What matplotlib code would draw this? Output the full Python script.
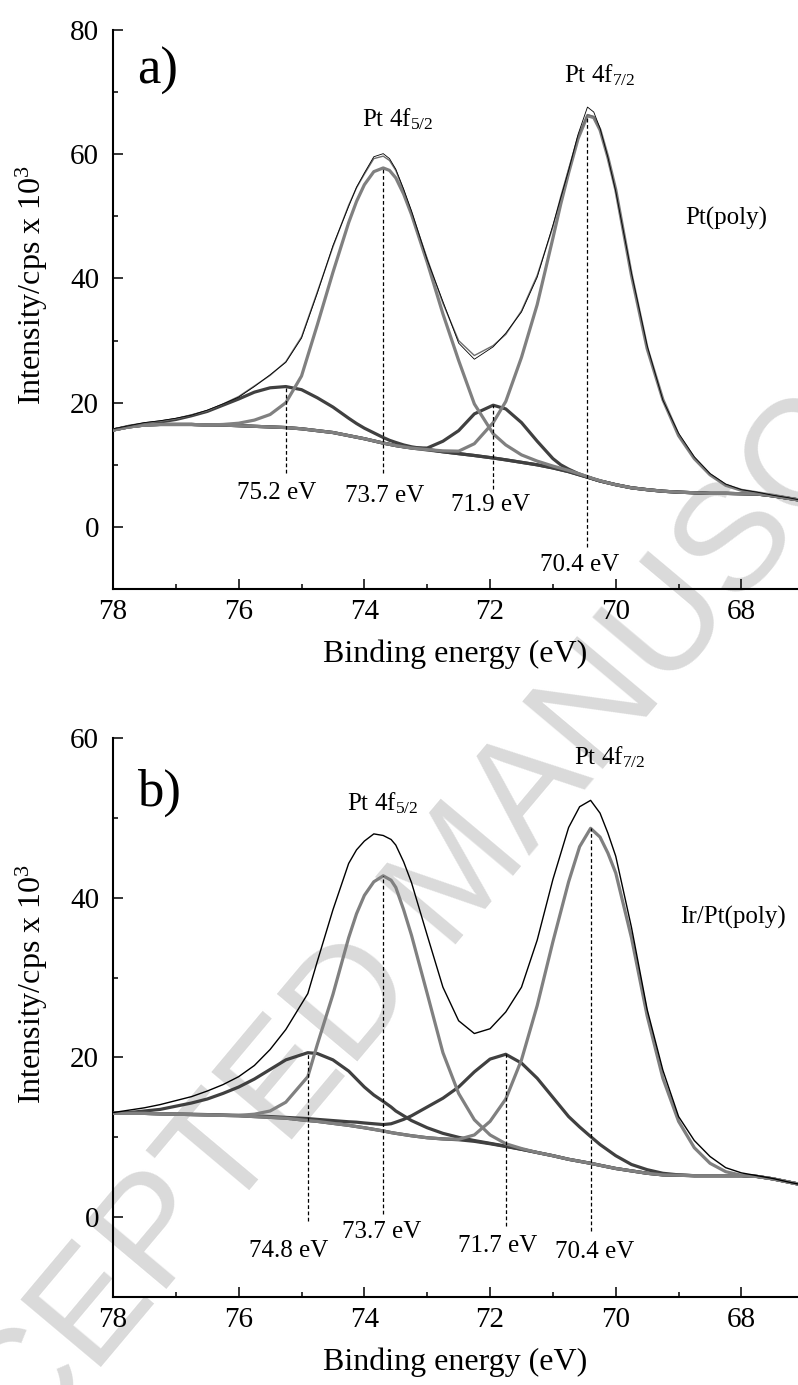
import numpy as np
import matplotlib
matplotlib.use('Agg')
import matplotlib.pyplot as plt
from matplotlib.ticker import MultipleLocator

plt.rcParams['font.family'] = 'Liberation Serif'
plt.rcParams['mathtext.fontset'] = 'custom'
plt.rcParams['mathtext.rm'] = 'Liberation Serif'

# ---- panel a) Pt(poly) ----
x_a = [78.0, 77.75, 77.5, 77.25, 77.0, 76.75, 76.5, 76.25, 76.0, 75.75, 75.5, 75.25,
       75.0, 74.75, 74.5, 74.25, 74.125, 74.0, 73.85, 73.7, 73.6, 73.5, 73.375, 73.25,
       73.0, 72.75, 72.5, 72.25, 71.95, 71.75, 71.5, 71.25, 71.0, 70.875, 70.75, 70.6,
       70.45, 70.35, 70.25, 70.125, 70.0, 69.75, 69.5, 69.25, 69.0, 68.75, 68.5, 68.25,
       68.0, 67.75, 67.5, 67.25, 67.0]
bg_a = [15.6, 16.1, 16.4, 16.5, 16.5, 16.5, 16.4, 16.4, 16.3, 16.2, 16.1, 16.0,
        15.8, 15.5, 15.2, 14.7, 14.45, 14.2, 13.85, 13.5, 13.3, 13.1, 12.9, 12.7,
        12.4, 12.1, 11.8, 11.5, 11.1, 10.8, 10.4, 10.0, 9.5, 9.2, 8.9, 8.45,
        8.0, 7.7, 7.4, 7.1, 6.8, 6.3, 6.0, 5.75, 5.6, 5.5, 5.4, 5.4,
        5.35, 5.3, 5.0, 4.6, 4.2]
p752_a = [15.6, 16.2, 16.6, 16.9, 17.3, 17.9, 18.6, 19.6, 20.6, 21.7, 22.4, 22.6,
          22.1, 20.8, 19.3, 17.5, 16.65, 15.9, 15.15, 14.4, 13.95, 13.6, 13.2, 12.9,
          12.5, 12.1, 11.8, 11.5, 11.1, 10.8, 10.4, 10.0, 9.5, 9.2, 8.9, 8.45,
          8.0, 7.7, 7.4, 7.1, 6.8, 6.3, 6.0, 5.75, 5.6, 5.5, 5.4, 5.4,
          5.35, 5.3, 5.0, 4.6, 4.2]
p737_a = [15.6, 16.1, 16.4, 16.5, 16.5, 16.5, 16.4, 16.5, 16.7, 17.2, 18.1, 20.0,
          24.3, 32.5, 41.0, 49.0, 52.4, 55.1, 57.2, 57.8, 57.4, 56.2, 53.6, 50.3,
          42.6, 34.3, 26.8, 19.8, 15.0, 13.2, 11.6, 10.6, 9.8, 9.45, 9.1, 8.6,
          8.1, 7.75, 7.45, 7.1, 6.8, 6.3, 6.0, 5.75, 5.6, 5.5, 5.4, 5.4,
          5.35, 5.3, 5.0, 4.6, 4.2]
p719_a = [15.6, 16.1, 16.4, 16.5, 16.5, 16.5, 16.4, 16.4, 16.3, 16.2, 16.1, 16.0,
          15.8, 15.5, 15.2, 14.7, 14.45, 14.2, 13.85, 13.5, 13.3, 13.1, 12.9, 12.75,
          12.7, 13.8, 15.5, 18.2, 19.6, 19.0, 16.8, 13.8, 11.0, 10.0, 9.3, 8.6,
          8.05, 7.7, 7.4, 7.1, 6.8, 6.3, 6.0, 5.75, 5.6, 5.5, 5.4, 5.4,
          5.35, 5.3, 5.0, 4.6, 4.2]
p704_a = [15.6, 16.1, 16.4, 16.5, 16.5, 16.5, 16.4, 16.4, 16.3, 16.2, 16.1, 16.0,
          15.8, 15.5, 15.2, 14.7, 14.45, 14.2, 13.85, 13.5, 13.3, 13.1, 12.9, 12.7,
          12.45, 12.25, 12.2, 13.4, 16.8, 20.2, 27.3, 35.8, 46.5, 52.0, 57.0, 62.5,
          66.2, 65.9, 63.9, 59.5, 54.3, 40.5, 28.7, 20.5, 14.7, 11.0, 8.4, 6.7,
          5.9, 5.5, 5.1, 4.65, 4.2]
env_a = [15.7, 16.2, 16.7, 17.0, 17.4, 18.0, 18.7, 19.8, 21.0, 22.7, 24.4, 26.6,
         30.6, 37.8, 45.1, 51.8, 54.6, 56.8, 59.3, 59.7, 59.0, 57.4, 54.2, 50.5,
         43.2, 36.0, 30.0, 27.6, 29.2, 31.0, 34.8, 40.5, 48.3, 53.2, 57.6, 62.8,
         66.4, 66.1, 64.0, 59.6, 54.4, 40.6, 28.8, 20.6, 14.8, 11.1, 8.5, 6.8,
         6.0, 5.5, 5.1, 4.65, 4.2]
raw_a = [15.8, 16.3, 16.8, 17.1, 17.5, 18.0, 18.8, 19.8, 20.9, 22.6, 24.5, 26.5,
         30.4, 37.6, 45.3, 51.6, 54.7, 57.0, 59.6, 60.1, 59.3, 57.6, 54.4, 50.9,
         43.0, 36.3, 29.6, 27.0, 29.0, 31.2, 34.6, 40.2, 48.6, 53.0, 57.4, 63.2,
         67.6, 66.8, 64.2, 59.5, 54.0, 40.9, 29.2, 20.4, 15.1, 11.3, 8.6, 6.9,
         6.0, 5.6, 5.1, 4.7, 4.2]
mark_x_a = [75.25, 73.7, 71.95, 70.45]
mark_low_a = [8.7, 8.7, 6.1, -3.2]
lab_a = ['75.2 eV', '73.7 eV', '71.9 eV', '70.4 eV']
lab_x_a = [75.4, 73.67, 71.99, 70.57]
lab_y_a = [5.5, 5.0, 3.5, -6.1]

# ---- panel b) Ir/Pt(poly) ----
x_b = [78.0, 77.75, 77.5, 77.25, 77.0, 76.75, 76.5, 76.25, 76.0, 75.75, 75.5, 75.25,
       74.9, 74.75, 74.5, 74.25, 74.125, 74.0, 73.85, 73.7, 73.575, 73.5, 73.375, 73.25,
       73.0, 72.75, 72.5, 72.25, 72.0, 71.75, 71.5, 71.25, 71.0, 70.75, 70.575, 70.4,
       70.25, 70.125, 70.0, 69.75, 69.5, 69.25, 69.0, 68.75, 68.5, 68.25, 68.0, 67.75,
       67.5, 67.25, 67.0]
bg_b = [13.0, 13.0, 13.0, 12.95, 12.9, 12.85, 12.8, 12.75, 12.7, 12.6, 12.5, 12.4,
        12.1, 12.0, 11.75, 11.5, 11.35, 11.2, 11.0, 10.8, 10.6, 10.5, 10.35, 10.2,
        9.95, 9.8, 9.7, 9.5, 9.2, 8.85, 8.5, 8.1, 7.7, 7.25, 7.0, 6.75,
        6.5, 6.3, 6.1, 5.8, 5.5, 5.3, 5.25, 5.2, 5.2, 5.2, 5.2, 5.1,
        4.8, 4.4, 4.0]
p748_b = [13.0, 13.1, 13.3, 13.5, 13.9, 14.3, 14.8, 15.5, 16.3, 17.3, 18.5, 19.7,
          20.6, 20.5, 19.7, 18.3, 17.3, 16.3, 15.3, 14.5, 13.8, 13.3, 12.7, 12.1,
          11.2, 10.5, 10.0, 9.6, 9.25, 8.9, 8.5, 8.1, 7.7, 7.25, 7.0, 6.75,
          6.5, 6.3, 6.1, 5.8, 5.5, 5.3, 5.25, 5.2, 5.2, 5.2, 5.2, 5.1,
          4.8, 4.4, 4.0]
p737_b = [13.0, 13.0, 13.0, 12.95, 12.9, 12.85, 12.8, 12.75, 12.75, 12.9, 13.3, 14.4,
          17.6, 21.6, 27.9, 35.0, 38.0, 40.3, 42.0, 42.75, 42.2, 41.3, 38.5, 35.3,
          28.0, 20.6, 15.5, 12.2, 10.3, 9.2, 8.6, 8.1, 7.7, 7.25, 7.0, 6.75,
          6.5, 6.3, 6.1, 5.8, 5.5, 5.3, 5.25, 5.2, 5.2, 5.2, 5.2, 5.1,
          4.8, 4.4, 4.0]
p717_b = [13.0, 13.0, 13.0, 12.95, 12.9, 12.9, 12.85, 12.8, 12.75, 12.7, 12.6, 12.5,
          12.35, 12.25, 12.1, 11.95, 11.9, 11.8, 11.7, 11.6, 11.7, 11.9, 12.25, 12.7,
          13.8, 14.9, 16.3, 18.2, 19.8, 20.4, 19.3, 17.4, 15.0, 12.6, 11.3, 10.1,
          9.1, 8.4, 7.7, 6.6, 5.95, 5.5, 5.3, 5.2, 5.2, 5.2, 5.2, 5.1,
          4.8, 4.4, 4.0]
p704_b = [13.0, 13.0, 13.0, 12.95, 12.9, 12.85, 12.8, 12.75, 12.7, 12.6, 12.5, 12.4,
          12.1, 12.0, 11.75, 11.5, 11.35, 11.2, 11.0, 10.8, 10.6, 10.5, 10.35, 10.2,
          9.95, 9.8, 9.75, 10.3, 12.0, 14.8, 19.7, 26.5, 34.5, 42.0, 46.4, 48.7,
          47.6, 45.6, 43.1, 35.0, 25.2, 17.4, 12.0, 8.7, 6.75, 5.7, 5.25, 5.1,
          4.8, 4.4, 4.0]
env_b = [13.1, 13.4, 13.7, 14.1, 14.6, 15.1, 15.8, 16.6, 17.6, 19.0, 21.0, 23.5,
         28.0, 32.0, 38.5, 44.3, 46.0, 47.1, 48.0, 47.8, 47.3, 46.6, 44.5, 41.9,
         35.3, 28.8, 24.6, 23.0, 23.6, 25.7, 28.8, 34.7, 42.3, 48.8, 51.4, 52.2,
         50.6, 48.1, 45.2, 36.3, 26.0, 18.4, 12.6, 9.6, 7.6, 6.2, 5.55, 5.2,
         4.85, 4.4, 4.0]
mark_x_b = [74.9, 73.7, 71.75, 70.4]
mark_low_b = [-0.5, 0.4, -1.1, -1.7]
lab_b = ['74.8 eV', '73.7 eV', '71.7 eV', '70.4 eV']
lab_x_b = [75.2, 73.73, 71.88, 70.33]
lab_y_b = [-4.2, -1.9, -3.6, -4.4]

GRAY = '#808080'
DARK = '#404040'


def style_axis(ax, ymax, ylab_y):
    ax.set_facecolor('none')
    ax.set_xlim(78, 67.1)
    ax.set_ylim(-10, ymax)
    ax.xaxis.set_major_locator(MultipleLocator(2))
    ax.xaxis.set_minor_locator(MultipleLocator(1))
    ax.yaxis.set_minor_locator(MultipleLocator(10))
    ax.set_yticks(list(range(0, ymax + 1, 20)))
    ax.tick_params(which='major', direction='in', length=7, width=1.1, labelsize=21)
    ax.tick_params(which='minor', direction='in', length=3.5, width=1.1)
    ax.tick_params(axis='x', pad=7)
    ax.tick_params(axis='y', pad=10)
    for s in ['top', 'right']:
        ax.spines[s].set_visible(False)
    for s in ['left', 'bottom']:
        ax.spines[s].set_linewidth(1.5)
    ax.set_xlabel('Binding energy (eV)', fontsize=23)
    ax.set_ylabel('Intensity/cps x 10$\\mathregular{^3}$', fontsize=23)
    ax.xaxis.set_label_coords(0.5, -0.09)
    ax.yaxis.set_label_coords(-0.092, ylab_y)


def draw_panel(ax, x, bg, darks, grays, env, env_color, raw=None):
    ax.plot(x, bg, color=DARK, lw=2.3, zorder=2)
    for d in darks:
        ax.plot(x, d, color=DARK, lw=2.3, zorder=3)
    for g in grays:
        ax.plot(x, g, color=GRAY, lw=2.3, zorder=4)
    ax.plot(x, env, color=env_color, lw=1.0, zorder=5)
    if raw is not None:
        ax.plot(x, raw, color='black', lw=0.6, zorder=6)


def draw_marks(ax, x, comps, mark_x, mark_low, labels, lx, ly):
    # dashed drop lines from each fitted peak maximum
    for comp, mx, lo in zip(comps, mark_x, mark_low):
        top = comp[x.index(mx)]
        ax.vlines(mx, lo, top, colors='black', linestyles=(0, (3, 2)), lw=0.9, zorder=7)
    for t, tx, ty in zip(labels, lx, ly):
        ax.text(tx, ty, t, fontsize=18, ha='center', va='center')


fig = plt.figure(figsize=(7.98, 13.85), dpi=100)

# watermark behind both panels
fig.text(462 / 798, 1 - 877 / 1385, 'ACCEPTED MANUSCRIPT', rotation=50,
         ha='center', va='center', fontsize=110, family='Liberation Sans',
         color='#dadada', zorder=-1)

ax_a = fig.add_axes([0.1416, 0.5747, 0.8584, 0.4036])
ax_b = fig.add_axes([0.1416, 0.0635, 0.8584, 0.4036])

# a)
style_axis(ax_a, 80, 0.544)
draw_panel(ax_a, x_a, bg_a, [p752_a, p719_a], [p737_a, p704_a], env_a, '#6e6e6e', raw_a)
draw_marks(ax_a, x_a, [p752_a, p737_a, p719_a, p704_a], mark_x_a, mark_low_a,
           lab_a, lab_x_a, lab_y_a)
ax_a.text(77.62, 71.4, 'a)', fontsize=38, va='baseline')
ax_a.text(74.03, 64.5, 'Pt 4f$\\mathregular{_{5/2}}$', fontsize=18, va='baseline')
ax_a.text(70.82, 71.5, 'Pt 4f$\\mathregular{_{7/2}}$', fontsize=18, va='baseline')
ax_a.text(68.89, 48.7, 'Pt(poly)', fontsize=18, va='baseline')

# b)
style_axis(ax_b, 60, 0.56)
draw_panel(ax_b, x_b, bg_b, [p748_b, p717_b], [p737_b, p704_b], env_b, 'black')
draw_marks(ax_b, x_b, [p748_b, p737_b, p717_b, p704_b], mark_x_b, mark_low_b,
           lab_b, lab_x_b, lab_y_b)
ax_b.text(77.62, 51.5, 'b)', fontsize=38, va='baseline')
ax_b.text(74.28, 51.0, 'Pt 4f$\\mathregular{_{5/2}}$', fontsize=18, va='baseline')
ax_b.text(70.66, 56.75, 'Pt 4f$\\mathregular{_{7/2}}$', fontsize=18, va='baseline')
ax_b.text(68.97, 36.75, 'Ir/Pt(poly)', fontsize=18, va='baseline')

fig.savefig('out.png', dpi=100)
